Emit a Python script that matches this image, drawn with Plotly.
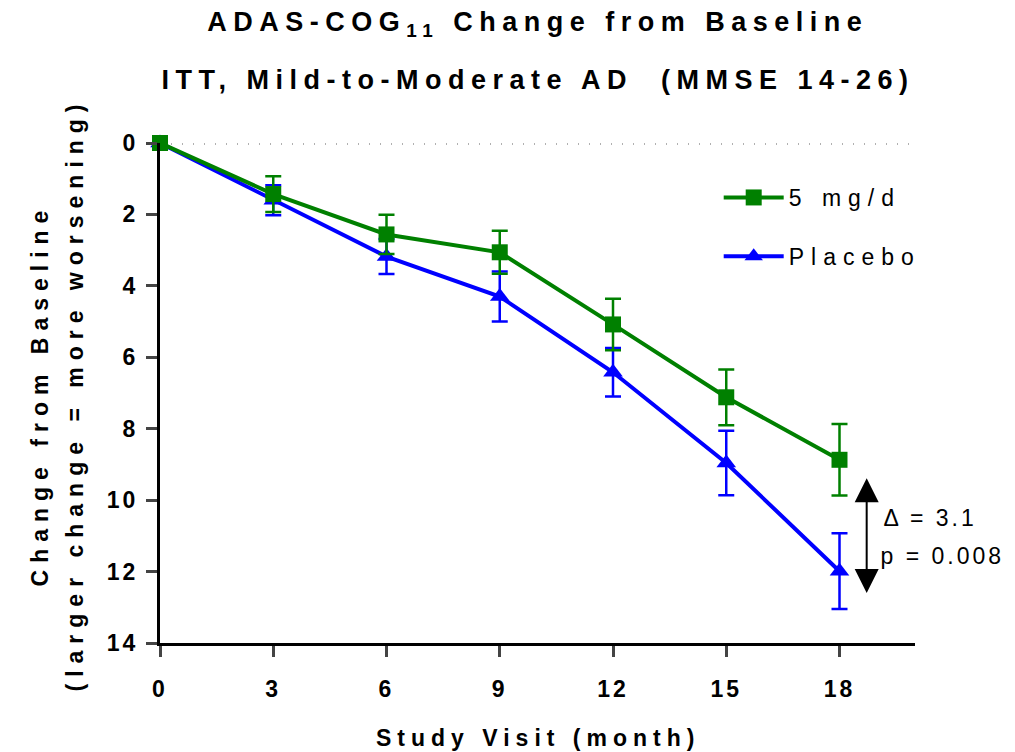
import plotly.graph_objects as go

# ---- data ----
months = [0, 3, 6, 9, 12, 15, 18]
mg5 = [0, 1.43, 2.56, 3.06, 5.08, 7.12, 8.87]
mg5_err = [0, 0.5, 0.55, 0.6, 0.72, 0.78, 1.0]
placebo = [0, 1.6, 3.18, 4.3, 6.42, 8.96, 11.99]
placebo_err = [0, 0.42, 0.49, 0.7, 0.68, 0.9, 1.06]
series_names = ["5 mg/d", "Placebo"]
x_ticks = [0, 3, 6, 9, 12, 15, 18]
y_ticks = [0, 2, 4, 6, 8, 10, 12, 14]
delta_text = "\u0394 = 3.1"
p_text = "p = 0.008"

GREEN = "#008000"
BLUE = "#0000FF"
FONT = "Arial, Liberation Sans, sans-serif"

fig = go.Figure()
fig.add_trace(go.Scatter(
    x=months, y=placebo, name=series_names[1], mode="lines+markers",
    line=dict(color=BLUE, width=4),
    marker=dict(symbol="triangle-up", size=17, color=BLUE),
    error_y=dict(type="data", array=placebo_err, color=BLUE, thickness=2.5, width=8),
    cliponaxis=False, legendrank=2, legendgroup="b",
))
fig.add_trace(go.Scatter(
    x=months, y=mg5, name=series_names[0], mode="lines+markers",
    line=dict(color=GREEN, width=4),
    marker=dict(symbol="square", size=16, color=GREEN),
    error_y=dict(type="data", array=mg5_err, color=GREEN, thickness=2.5, width=8),
    cliponaxis=False, legendrank=1, legendgroup="a",
))

# dotted reference line at zero
fig.add_shape(type="line", xref="x", yref="y", x0=0, x1=20, y0=0, y1=0,
              line=dict(color="#b0b0b0", width=4, dash="1px,10px"), layer="below")

TITLE_FONT = dict(size=27, family=FONT, color="black", weight="bold")
AXT_FONT = dict(size=23, family=FONT, color="black", weight="bold")
annotations = [
    dict(text="ADAS-COG<sub>11</sub> Change from Baseline", xref="paper", yref="paper",
         x=0.5, y=1.238, xanchor="center", yanchor="middle", showarrow=False, font=TITLE_FONT),
    dict(text="ITT, Mild-to-Moderate AD  (MMSE 14-26)", xref="paper", yref="paper",
         x=0.5, y=1.126, xanchor="center", yanchor="middle", showarrow=False, font=TITLE_FONT),
    dict(text="Change from Baseline", xref="paper", yref="paper", x=-0.159, y=0.497,
         xanchor="center", yanchor="middle", textangle=-90, showarrow=False, font=AXT_FONT),
    dict(text="(larger change = more worsening)", xref="paper", yref="paper", x=-0.1126, y=0.497,
         xanchor="center", yanchor="middle", textangle=-90, showarrow=False, font=AXT_FONT),
    dict(text="Study Visit (month)", xref="paper", yref="paper", x=0.5, y=-0.19,
         xanchor="center", yanchor="middle", showarrow=False, font=AXT_FONT),
    dict(text=delta_text, xref="x", yref="y", x=19.4, y=10.5, xanchor="left", yanchor="middle",
         showarrow=False, font=dict(size=23, family=FONT, color="black")),
    dict(text=p_text, xref="x", yref="y", x=19.4, y=11.55, xanchor="left", yanchor="middle",
         showarrow=False, font=dict(size=23, family=FONT, color="black")),
    dict(text=" ", xref="x", yref="y", axref="x", ayref="y", x=18.72, y=12.6, ax=18.72, ay=9.15,
         showarrow=True, arrowhead=2, startarrowhead=2, arrowside="end+start",
         arrowsize=2.4, startarrowsize=2.4, arrowwidth=2, arrowcolor="black"),
]

fig.update_layout(
    width=1015, height=752,
    margin=dict(l=160, r=100, t=143, b=109),
    plot_bgcolor="white", paper_bgcolor="white",
    font=dict(family=FONT, color="black"),
    annotations=annotations,
    showlegend=True,
    legend=dict(x=0.74, y=0.934, xanchor="left", yanchor="top", bgcolor="rgba(0,0,0,0)",
                font=dict(size=23, family=FONT, color="black"), tracegroupgap=26,
                itemwidth=60, traceorder="grouped"),
    xaxis=dict(range=[0, 20], tickvals=x_ticks, ticks="outside", ticklen=11, tickwidth=3,
               showline=True, linewidth=3, linecolor="black", showgrid=False, zeroline=False,
               tickfont=dict(size=23, family=FONT, color="black", weight="bold"), ticklabelstandoff=12),
    yaxis=dict(range=[14, 0], tickvals=y_ticks, ticks="outside", ticklen=11, tickwidth=3,
               showline=True, linewidth=3, linecolor="black", showgrid=False, zeroline=False,
               tickfont=dict(size=23, family=FONT, color="black", weight="bold"), ticklabelstandoff=3),
)

css = (
    'body{margin:0 !important;}'
    'g.annotation[data-index="0"] text, g.annotation[data-index="1"] text {letter-spacing:6.5px;}'
    'g.annotation[data-index="2"] text, g.annotation[data-index="3"] text {letter-spacing:7px;}'
    'g.annotation[data-index="4"] text {letter-spacing:6px;}'
    'g.annotation[data-index="5"] text, g.annotation[data-index="6"] text {letter-spacing:3px;}'
    '.xtick text, .ytick text {letter-spacing:3px;}'
    '.legendtext {letter-spacing:7px;}'
    '.legend .scrollbox, .legend {clip-path:none !important;}'
)
post = "var s=document.createElement('style');s.textContent='" + css.replace("'", "\\'") + "';document.head.appendChild(s);"

fig.write_html("out.html", post_script=post, config={"displayModeBar": False})
